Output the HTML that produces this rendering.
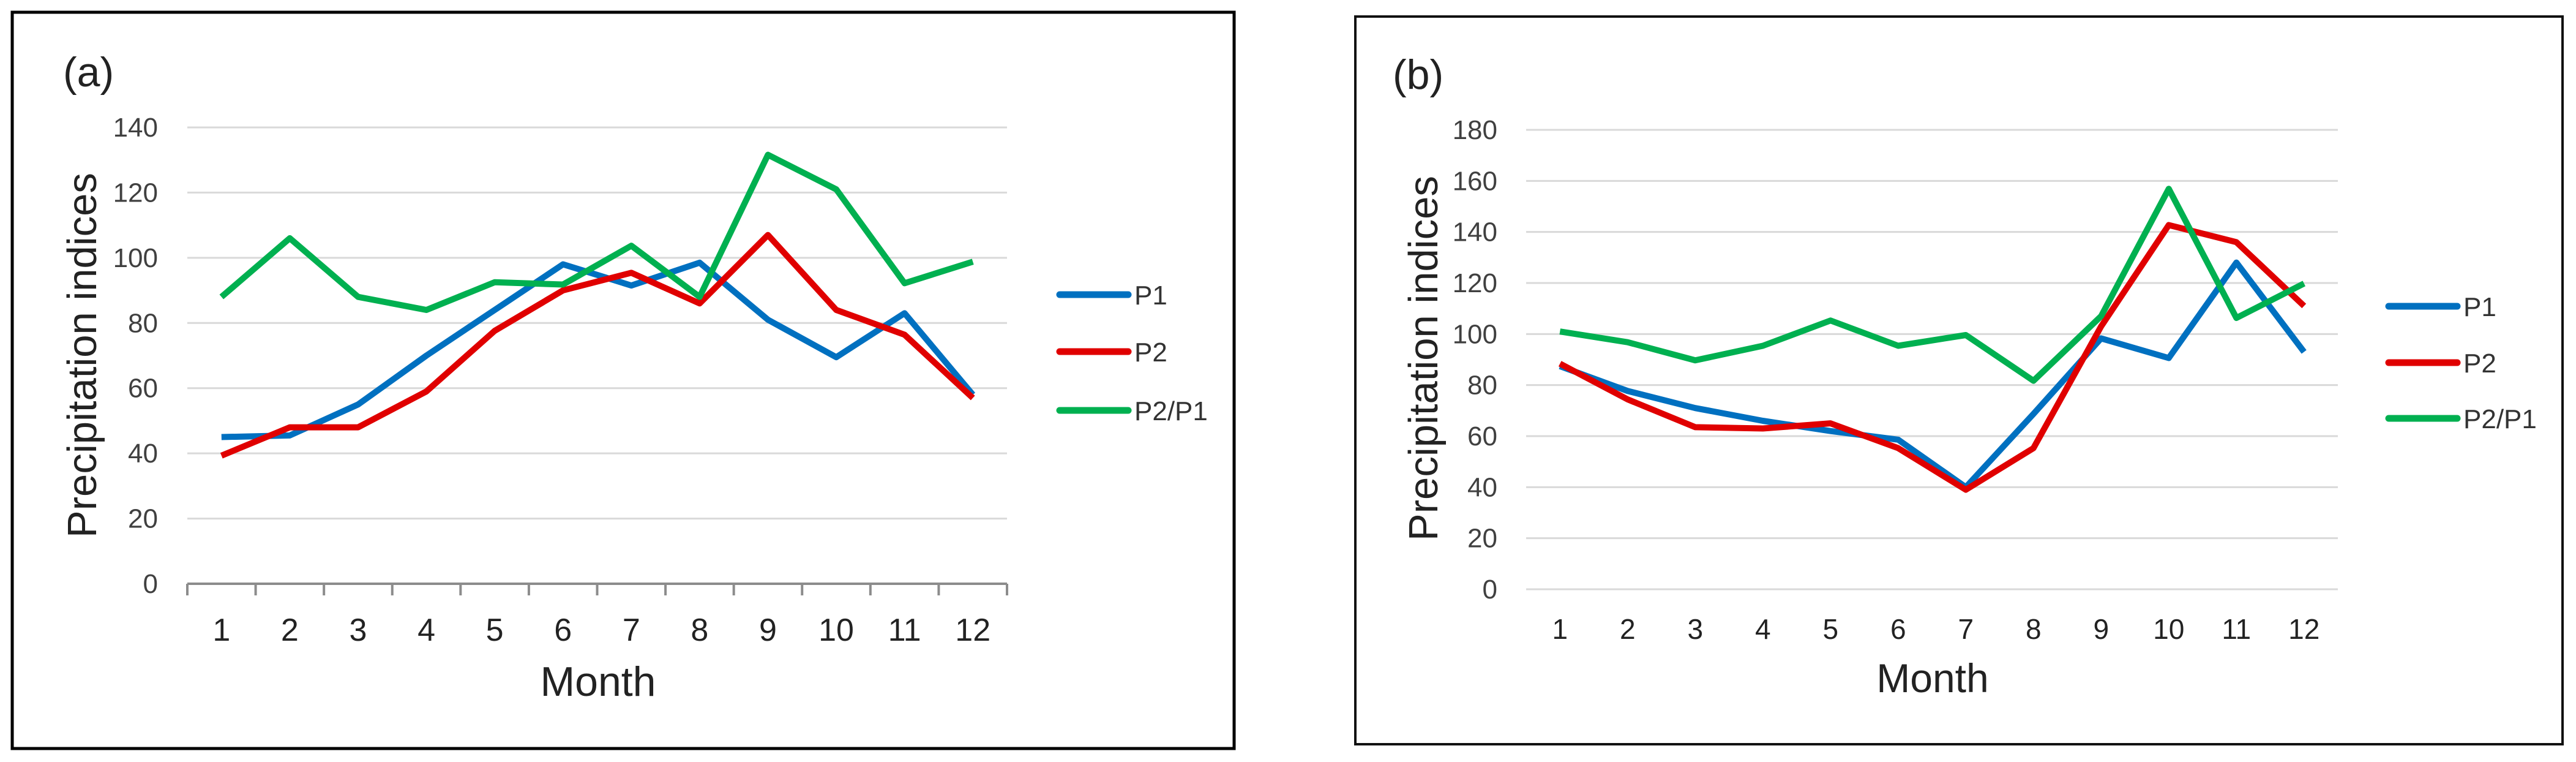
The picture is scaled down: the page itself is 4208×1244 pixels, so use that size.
<!DOCTYPE html>
<html><head><meta charset="utf-8"><style>
html,body{margin:0;padding:0;background:#fff;}
svg{display:block;font-family:"Liberation Sans",sans-serif;}
</style></head><body>
<svg id="chart" width="4208" height="1244" viewBox="0 0 4208 1244" xmlns="http://www.w3.org/2000/svg">
<rect x="20" y="20" width="1996" height="1202" fill="none" stroke="#000" stroke-width="5"/>
<rect x="2214" y="27" width="1972" height="1188" fill="none" stroke="#111" stroke-width="4"/>
<text x="103" y="141" font-size="68" fill="#222">(a)</text>
<text x="2275" y="145" font-size="68" fill="#222">(b)</text>
<g id="ga"></g>
<g id="gb"></g>
</svg>
<script>
const months = ["1","2","3","4","5","6","7","8","9","10","11","12"];
const seriesNames = ["P1","P2","P2/P1"];
const colors = ["#0070C0","#E00000","#00B050"];
const aTicks = [0,20,40,60,80,100,120,140];
const aP1 = [45,45.5,55,70,84,98,91.5,98.5,81,69.5,83,58];
const aP2 = [39.3,48,48,59,77.6,90,95.4,86,107,84,76.4,57];
const aP21 = [88,106,88,84,92.5,91.8,103.7,88,131.6,121,92.2,98.8];
const bTicks = [0,20,40,60,80,100,120,140,160,180];
const bP1 = [87.4,77.7,71,66,62,58.6,40,68.7,98.3,90.6,128,93];
const bP2 = [88.4,74.4,63.5,63,65,55.3,39,55.3,103,142.7,136,111];
const bP21 = [101,96.8,89.7,95.4,105.3,95.4,99.6,81.7,107,156.9,106.3,119.8];

const NS="http://www.w3.org/2000/svg";
function mk(parent,tag,attrs,text){const e=document.createElementNS(NS,tag);for(const k in attrs)e.setAttribute(k,attrs[k]);if(text!==undefined)e.textContent=text;parent.appendChild(e);return e;}

function drawChart(g,cfg,ticks,series){
  const x0=cfg.x0,x1=cfg.x1,yTop=cfg.yTop,yBot=cfg.yBot,ymax=ticks[ticks.length-1];
  const cw=(x1-x0)/months.length;
  const X=i=>x0+cw*(i+0.5);
  const Y=v=>yBot-(v/ymax)*(yBot-yTop);
  ticks.forEach(t=>{
    if(!(cfg.axisLine&&t===0)){
      const l=mk(g,"line",{x1:x0,x2:x1,y1:Y(t),y2:Y(t),stroke:"#d9d9d9","stroke-width":3});
      
      
    }
    const tx=mk(g,"text",{x:cfg.tickX,y:Y(t)+15,"text-anchor":"end","font-size":44,fill:"#404040"},String(t));
    
    
  });
  if(cfg.axisLine){
    const ax=mk(g,"line",{x1:x0,x2:x1,y1:yBot,y2:yBot,stroke:"#8c8c8c","stroke-width":4});
    
    
    for(let i=0;i<=months.length;i++){
      const tk=mk(g,"line",{x1:x0+cw*i,x2:x0+cw*i,y1:yBot,y2:yBot+19,stroke:"#8c8c8c","stroke-width":4});
      
      
    }
  }
  months.forEach((m,i)=>{
    const t=mk(g,"text",{x:X(i),y:cfg.xlabY,"text-anchor":"middle","font-size":cfg.xfs,fill:"#222"},m);
    
    
  });
  series.forEach((s,k)=>{
    const p=mk(g,"polyline",{points:s.map((v,i)=>X(i)+","+Y(v)).join(" "),fill:"none",stroke:colors[k],"stroke-width":10,"stroke-linejoin":"round"});
    
    
  });
  seriesNames.forEach((n,k)=>{
    const ly=cfg.legY[k];
    const l=mk(g,"line",{x1:cfg.legX,x2:cfg.legX+112,y1:ly,y2:ly,stroke:colors[k],"stroke-width":11,"stroke-linecap":"round"});
    
    
    const t=mk(g,"text",{x:cfg.legX+122,y:ly+16,"font-size":44,fill:"#333"},n);
    
    
  });
  const mt=mk(g,"text",{x:cfg.monthX,y:cfg.monthY,"text-anchor":"middle","font-size":cfg.mfs,fill:"#222"},"Month");
  
  
  const yt=mk(g,"text",{x:0,y:0,"text-anchor":"middle","font-size":67,fill:"#222","xml:space":"preserve",transform:"translate("+cfg.ytX+","+cfg.ytY+") rotate(-90)"},cfg.ytText);
  
  
}
drawChart(document.getElementById("ga"),{x0:306,x1:1645,yTop:208,yBot:953,axisLine:true,tickX:258,xlabY:1046,xfs:52,legX:1731,legY:[481,574,670],monthX:977,monthY:1136,mfs:68,ytX:157,ytY:580,ytText:"Precipitation indices"},aTicks,[aP1,aP2,aP21]);
drawChart(document.getElementById("gb"),{x0:2493,x1:3819,yTop:212,yBot:962,axisLine:false,tickX:2446,xlabY:1043,xfs:46,legX:3902,legY:[500,592,683],monthX:3157,monthY:1130,mfs:66,ytX:2348,ytY:585,ytText:"Precipitation  indices"},bTicks,[bP1,bP2,bP21]);
</script>
</body></html>
